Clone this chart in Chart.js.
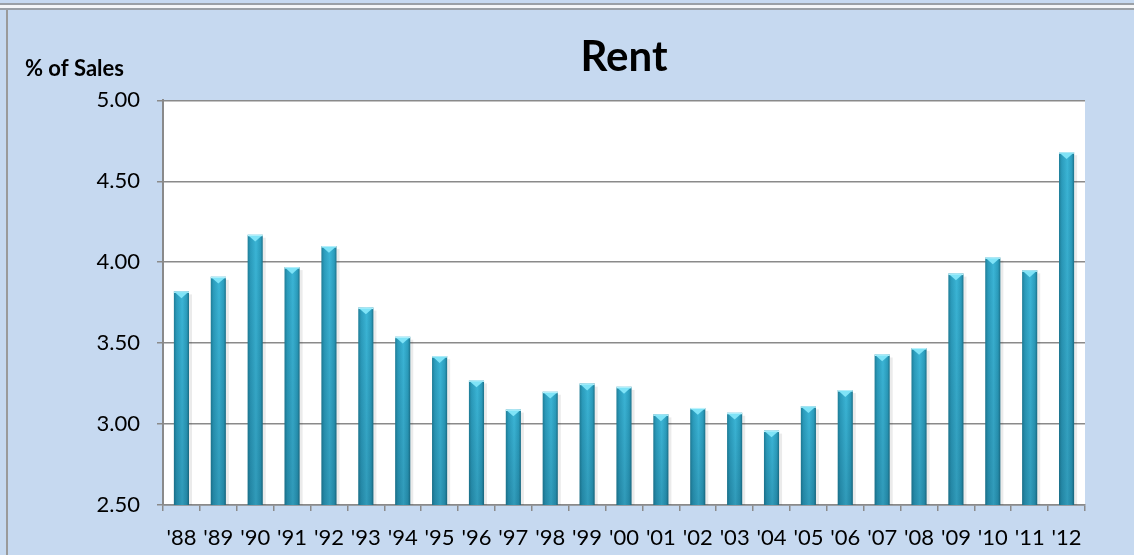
<!DOCTYPE html>
<html lang="en">
<head>
    <meta charset="UTF-8">
    <title>Rent</title>
    <script src="https://cdn.jsdelivr.net/npm/chart.js"></script>
    <style>
        body, html {
            margin: 0;
            padding: 0;
            width: 1134px;
            height: 555px;
            overflow: hidden;
            background: #c6d9f0;
        }

        .strip {
            position: absolute;
            left: 0;
            top: 3px;
            width: 1134px;
            height: 3px;
            background: #f4f6f8;
            border-top: 2px solid #9aa0a6;
            border-bottom: 2px solid #9aa0a6;
        }

        .frame {
            position: absolute;
            left: 6px;
            top: 10px;
            width: 1140px;
            height: 560px;
            border-left: 2px solid #9a9a9a;
        }

        .chart-box {
            position: absolute;
            left: 0;
            top: 0;
            width: 1134px;
            height: 555px;
        }
    </style>
</head>
<body>
    <div class="strip"></div>
    <div class="frame"></div>
    <div class="chart-box">
        <canvas id="rentChart" width="1134" height="555"></canvas>
    </div>

    <script>
        // данные с графика
        var years = ["'88", "'89", "'90", "'91", "'92", "'93", "'94", "'95", "'96", "'97", "'98", "'99", "'00",
                     "'01", "'02", "'03", "'04", "'05", "'06", "'07", "'08", "'09", "'10", "'11", "'12"];
        var rentPct = [3.82, 3.91, 4.17, 3.97, 4.10, 3.72, 3.54, 3.42, 3.27, 3.09, 3.20, 3.25, 3.23,
                       3.06, 3.10, 3.07, 2.96, 3.11, 3.21, 3.43, 3.47, 3.93, 4.03, 3.95, 4.68];
        var yMin = 2.5;
        var yMax = 5.0;
        var yStep = 0.5;

        var FONT = 'Lato, "Open Sans", sans-serif';
        var barPct = 0.41;

        function barGeom(chart, i) {
            var xs = chart.scales.x;
            var cx = xs.getPixelForValue(i);
            var half = (xs.width / years.length) * barPct / 2;
            return { left: cx - half, right: cx + half };
        }

        function barFill(ctx) {
            var chart = ctx.chart;
            if (!chart.chartArea || !chart.scales.x) return '#2ea3c3';
            var g = barGeom(chart, ctx.dataIndex);
            var grad = chart.ctx.createLinearGradient(g.left, 0, g.right, 0);
            grad.addColorStop(0, '#1f7e98');
            grad.addColorStop(0.18, '#2b9cbc');
            grad.addColorStop(0.55, '#3bb5d6');
            grad.addColorStop(0.85, '#2b9dbd');
            grad.addColorStop(1, '#1c7189');
            return grad;
        }

        // белый фон области построения
        var plotBgPlugin = {
            id: 'plotBg',
            beforeDraw: function (chart) {
                var a = chart.chartArea;
                var c = chart.ctx;
                c.save();
                c.fillStyle = '#ffffff';
                c.fillRect(a.left, a.top, a.right - a.left, a.bottom - a.top);
                c.restore();
            }
        };

        // тень, затемнение вниз и треугольный скос сверху
        var bevelPlugin = {
            id: 'bevel',
            beforeDatasetsDraw: function (chart) {
                var c = chart.ctx;
                var bottom = chart.chartArea.bottom;
                var meta = chart.getDatasetMeta(0);
                c.save();
                c.fillStyle = 'rgba(0,0,0,0.08)';
                meta.data.forEach(function (bar) {
                    var p = bar.getProps(['x', 'y', 'width'], true);
                    c.fillRect(p.x + p.width / 2, p.y + 3, 3, bottom - p.y - 3);
                });
                c.restore();
            },
            afterDatasetsDraw: function (chart) {
                var c = chart.ctx;
                var bottom = chart.chartArea.bottom;
                var meta = chart.getDatasetMeta(0);
                c.save();
                meta.data.forEach(function (bar) {
                    var p = bar.getProps(['x', 'y', 'width'], true);
                    var l = p.x - p.width / 2, r = p.x + p.width / 2;
                    var shade = c.createLinearGradient(0, p.y, 0, bottom);
                    shade.addColorStop(0, 'rgba(0,30,50,0)');
                    shade.addColorStop(1, 'rgba(0,30,50,0.18)');
                    c.fillStyle = shade;
                    c.fillRect(l, p.y, p.width, bottom - p.y);
                    c.fillStyle = '#bdf3fd';
                    c.fillRect(l, p.y, p.width, 1.5);
                    c.beginPath();
                    c.moveTo(l + 1, p.y + 1);
                    c.lineTo(r - 1, p.y + 1);
                    c.lineTo(p.x, p.y + p.width * 0.45);
                    c.closePath();
                    c.fillStyle = '#7fe3f7';
                    c.fill();
                });
                c.restore();
            }
        };

        var axisNamePlugin = {
            id: 'axisName',
            afterDraw: function (chart) {
                var c = chart.ctx;
                c.save();
                c.font = 'bold 22px ' + FONT;
                c.fillStyle = '#000';
                c.textAlign = 'left';
                c.textBaseline = 'middle';
                c.fillText('% of Sales', 25, 69);
                c.restore();
            }
        };

        var canvas = document.getElementById('rentChart');
        var chart = new Chart(canvas, {
            type: 'bar',
            data: {
                labels: years,
                datasets: [{
                    label: 'Rent',
                    data: rentPct,
                    backgroundColor: barFill,
                    borderWidth: 0,
                    barPercentage: barPct,
                    categoryPercentage: 1.0
                }]
            },
            options: {
                responsive: false,
                animation: false,
                layout: {
                    padding: { left: 0, right: 49, top: 0, bottom: 0 }
                },
                plugins: {
                    legend: { display: false },
                    tooltip: { enabled: false },
                    title: {
                        display: true,
                        text: 'Rent',
                        fullSize: false,
                        color: '#000',
                        font: { family: FONT, size: 42, weight: 'bold' },
                        padding: { top: 32, bottom: 18 }
                    }
                },
                scales: {
                    x: {
                        offset: true,
                        grid: {
                            display: true,
                            offset: true,
                            drawOnChartArea: false,
                            drawTicks: true,
                            tickLength: 6,
                            color: '#8a8a8a',
                            lineWidth: 1.5
                        },
                        border: { display: true, color: '#8a8a8a', width: 1.5 },
                        ticks: {
                            color: '#000',
                            padding: 14,
                            maxRotation: 0,
                            autoSkip: false,
                            font: { family: FONT, size: 22 }
                        },
                        afterFit: function (scale) { scale.height = 50; }
                    },
                    y: {
                        min: yMin,
                        max: yMax,
                        grid: {
                            color: '#8a8a8a',
                            lineWidth: 1.5,
                            tickLength: 6
                        },
                        border: { display: true, color: '#8a8a8a', width: 2 },
                        ticks: {
                            stepSize: yStep,
                            color: '#000',
                            padding: 17,
                            font: { family: FONT, size: 22 },
                            callback: function (v) { return v.toFixed(2); }
                        },
                        afterFit: function (scale) { scale.width = 163; }
                    }
                }
            },
            plugins: [plotBgPlugin, bevelPlugin, axisNamePlugin]
        });
    </script>
</body>
</html>
